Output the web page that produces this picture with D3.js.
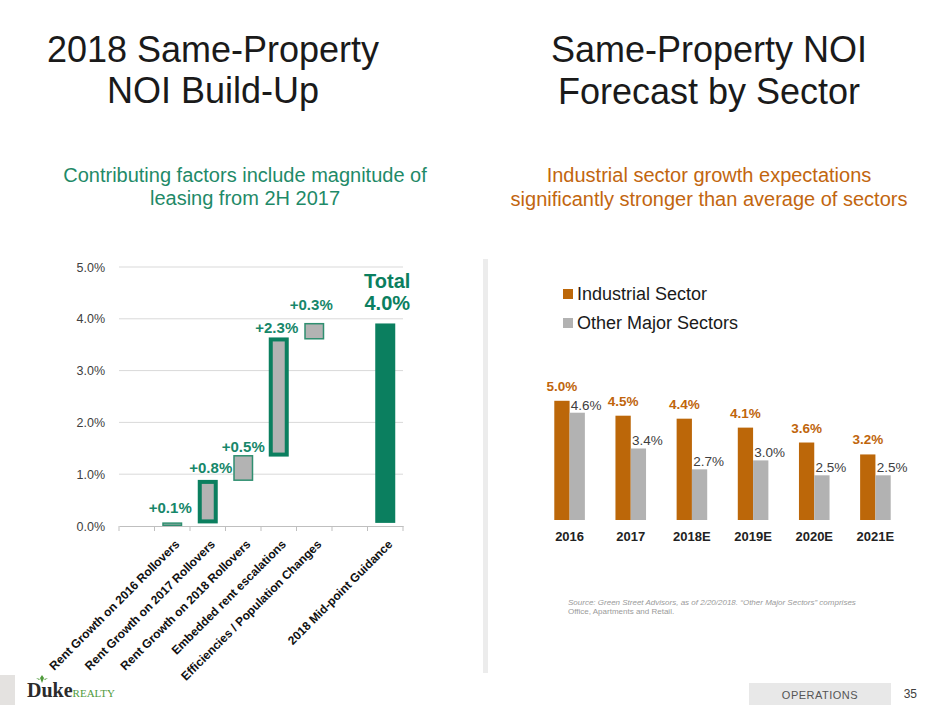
<!DOCTYPE html>
<html>
<head>
<meta charset="utf-8">
<script src="https://cdn.jsdelivr.net/npm/d3@7"></script>
<style>
  html, body { margin: 0; padding: 0; background: #fff; }
  svg { display: block; font-family: "Liberation Sans", Arial, Helvetica, sans-serif; }
</style>
</head>
<body>
<svg id="chart" width="940" height="705"></svg>
<script>
// ---------- Left chart: waterfall data ----------
const wfCategories = ["", "Rent Growth on 2016 Rollovers", "Rent Growth on 2017 Rollovers", "Rent Growth on 2018 Rollovers", "Embedded rent escalations", "Efficiencies / Population Changes", " ", "2018 Mid-point Guidance"];
const wfStart  = [null, 0.00, 0.05, 0.87, 1.34, 3.60, null, 0.06];
const wfEnd    = [null, 0.07, 0.89, 1.37, 3.64, 3.92, null, 3.91];
const wfLabels = ["", "+0.1%", "+0.8%", "+0.5%", "+2.3%", "+0.3%", "", "4.0%"];
const wfTicks  = [0, 1, 2, 3, 4, 5];

// ---------- Right chart: grouped bars ----------
const years = ["2016", "2017", "2018E", "2019E", "2020E", "2021E"];
const seriesNames = ["Industrial Sector", "Other Major Sectors"];
const industrial = [5.0, 4.5, 4.4, 4.1, 3.6, 3.2];
const otherMajor = [4.6, 3.4, 2.7, 3.0, 2.5, 2.5];

const GREEN = "#0b7f5f", GREEN_TXT = "#17876a", GRAY = "#b3b3b3";
const ORANGE = "#bc6709", OTHER_GRAY = "#b2b2b2";

const svg = d3.select("#chart");

// ---------- Titles ----------
function multiline(x, ys, lines, size, color, weight) {
  lines.forEach((t, i) => {
    svg.append("text").attr("x", x).attr("y", ys[i]).attr("text-anchor", "middle")
      .attr("font-size", size).attr("fill", color).attr("font-weight", weight || "normal").text(t);
  });
}
multiline(213, [62, 103], ["2018 Same-Property", "NOI Build-Up"], 36, "#1a1a1a");
multiline(709, [62, 104], ["Same-Property NOI", "Forecast by Sector"], 36, "#1a1a1a");
multiline(245, [182, 205], ["Contributing factors include magnitude of", "leasing from 2H 2017"], 20, "#1f8a68");
multiline(709, [182, 206], ["Industrial sector growth expectations", "significantly stronger than average of sectors"], 20, "#c2660f");

// divider
svg.append("rect").attr("x", 483).attr("y", 259).attr("width", 5).attr("height", 414).attr("fill", "#ececec");

// ---------- Left waterfall ----------
const lx = d3.scaleBand().domain(wfCategories).range([119, 403]).padding(0);
const ly = d3.scaleLinear().domain([0, 5]).range([526, 267]);
const left = svg.append("g");

left.append("g").selectAll("line").data(wfTicks).join("line")
  .attr("x1", 119).attr("x2", 403)
  .attr("y1", d => ly(d)).attr("y2", d => ly(d))
  .attr("stroke", d => d === 0 ? "none" : "#d9d9d9").attr("stroke-width", 1);

const yAxis = left.append("g").attr("transform", "translate(108,0)")
  .call(d3.axisLeft(ly).tickValues(wfTicks).tickSize(0).tickFormat(d => d.toFixed(1) + "%"));
yAxis.select(".domain").remove();
yAxis.selectAll("text").attr("font-size", 12.5).attr("fill", "#404040")
  .attr("font-family", "'Liberation Sans', Arial, sans-serif");

// x axis line + ticks at band boundaries
const xAxis = left.append("g").attr("transform", "translate(0,526)")
  .call(d3.axisBottom(lx).tickSize(0).tickFormat(""));
xAxis.select(".domain").attr("stroke", "#bfbfbf");
xAxis.selectAll(".tick").remove();
const bounds = wfCategories.map(c => lx(c)).concat([lx(wfCategories[wfCategories.length - 1]) + lx.bandwidth()]);
left.append("g").selectAll("line").data(bounds).join("line")
  .attr("x1", d => d).attr("x2", d => d).attr("y1", 526).attr("y2", 531)
  .attr("stroke", "#bfbfbf");

const thick = new Set(["Rent Growth on 2017 Rollovers", "Embedded rent escalations"]);
const totalCat = "2018 Mid-point Guidance";
const barW = 20;
const wfData = wfCategories.map((c, i) => ({ c, s: wfStart[i], e: wfEnd[i], lab: wfLabels[i] })).filter(d => d.s !== null);

left.append("g").selectAll("rect").data(wfData).join("rect")
  .each(function (d) {
    const cx = lx(d.c) + lx.bandwidth() / 2;
    const isTotal = d.c === totalCat;
    const sw = isTotal ? 0 : (thick.has(d.c) ? 4 : 1.5);
    const top = ly(d.e), bot = ly(d.s);
    d3.select(this)
      .attr("x", cx - barW / 2 + sw / 2).attr("width", barW - sw)
      .attr("y", top + sw / 2).attr("height", Math.max(0.5, bot - top - sw))
      .attr("fill", isTotal ? GREEN : GRAY)
      .attr("stroke", isTotal ? "none" : (thick.has(d.c) ? GREEN : "#2f8f70"))
      .attr("stroke-width", sw);
  });

// value labels
const labelOffsets = { "Rent Growth on 2016 Rollovers": [-2, 9], "Rent Growth on 2017 Rollovers": [3, 7], "Rent Growth on 2018 Rollovers": [0, 3], "Embedded rent escalations": [-2, 4], "Efficiencies / Population Changes": [-3, 13] };
left.append("g").selectAll("text").data(wfData.filter(d => d.c !== totalCat)).join("text")
  .attr("x", d => lx(d.c) + lx.bandwidth() / 2 + labelOffsets[d.c][0])
  .attr("y", d => ly(d.e) - labelOffsets[d.c][1])
  .attr("text-anchor", "middle").attr("font-size", 15).attr("font-weight", "bold")
  .attr("fill", GREEN_TXT).text(d => d.lab);

const tot = wfData.find(d => d.c === totalCat);
const tcx = lx(totalCat) + lx.bandwidth() / 2 + 2;
left.append("text").attr("x", tcx).attr("y", ly(tot.e) - 35).attr("text-anchor", "middle")
  .attr("font-size", 20).attr("font-weight", "bold").attr("fill", GREEN).text("Total");
left.append("text").attr("x", tcx).attr("y", ly(tot.e) - 13).attr("text-anchor", "middle")
  .attr("font-size", 20).attr("font-weight", "bold").attr("fill", GREEN).text(tot.lab);

// rotated category labels
left.append("g").selectAll("text").data(wfCategories.filter(c => c.trim() !== "")).join("text")
  .attr("transform", c => `translate(${lx(c) + lx.bandwidth() / 2 + 8},545) rotate(-45)`)
  .attr("text-anchor", "end").attr("font-size", 12).attr("font-weight", "bold")
  .attr("fill", "#111").text(c => c);

// ---------- Right grouped bars ----------
const rx0 = d3.scaleBand().domain(years).range([539, 906]).padding(0);
const rx1 = d3.scaleBand().domain(seriesNames).range([rx0.bandwidth() * 0.25, rx0.bandwidth() * 0.75]);
const ry = d3.scaleLinear().domain([1, 6]).range([520, 371]);
const colors = { "Industrial Sector": ORANGE, "Other Major Sectors": OTHER_GRAY };
const right = svg.append("g");
const grouped = years.map((y, i) => ({ y, vals: [{ s: seriesNames[0], v: industrial[i] }, { s: seriesNames[1], v: otherMajor[i] }] }));

const groups = right.selectAll("g.grp").data(grouped).join("g").attr("class", "grp")
  .attr("transform", d => `translate(${rx0(d.y)},0)`);
groups.selectAll("rect").data(d => d.vals).join("rect")
  .attr("x", d => rx1(d.s)).attr("width", rx1.bandwidth())
  .attr("y", d => ry(d.v)).attr("height", d => ry(1) - ry(d.v))
  .attr("fill", d => colors[d.s]);
groups.selectAll("text.val").data(d => d.vals).join("text").attr("class", "val")
  .attr("x", d => rx1(d.s) + rx1.bandwidth() / 2 + (d.s === seriesNames[0] ? 0 : 9))
  .attr("y", d => ry(d.v) - (d.s === seriesNames[0] ? 10 : 3))
  .attr("text-anchor", "middle").attr("font-size", 13.5)
  .attr("font-weight", d => d.s === seriesNames[0] ? "bold" : "normal")
  .attr("fill", d => d.s === seriesNames[0] ? "#c0650c" : "#404040")
  .text(d => d.v.toFixed(1) + "%");

const rAxis = right.append("g").attr("transform", "translate(0,520)")
  .call(d3.axisBottom(rx0).tickSize(0).tickPadding(12));
rAxis.select(".domain").remove();
rAxis.selectAll("text").attr("font-size", 13).attr("font-weight", "bold").attr("fill", "#222")
  .attr("font-family", "'Liberation Sans', Arial, sans-serif");

// legend
const leg = right.append("g").selectAll("g").data(seriesNames).join("g")
  .attr("transform", (d, i) => `translate(563,${289 + i * 29})`);
leg.append("rect").attr("width", 10).attr("height", 10).attr("fill", d => colors[d]);
leg.append("text").attr("x", 14).attr("y", 11).attr("font-size", 18).attr("fill", "#1a1a1a").text(d => d);

// source note
svg.append("text").attr("x", 568).attr("y", 605).attr("font-size", 8).attr("font-style", "italic")
  .attr("fill", "#9a9a9a").text("Source: Green Street Advisors, as of 2/20/2018. \u201cOther Major Sectors\u201d comprises");
svg.append("text").attr("x", 568).attr("y", 614).attr("font-size", 8)
  .attr("fill", "#9a9a9a").text("Office, Apartments and Retail.");

// ---------- Footer ----------
svg.append("rect").attr("x", 749).attr("y", 683).attr("width", 142).attr("height", 22).attr("fill", "#e8e8e8");
svg.append("text").attr("x", 820).attr("y", 699).attr("text-anchor", "middle").attr("font-size", 11)
  .attr("letter-spacing", 0.5).attr("fill", "#555").text("OPERATIONS");
svg.append("text").attr("x", 917).attr("y", 698).attr("text-anchor", "end").attr("font-size", 12)
  .attr("fill", "#404040").text("35");

// logo
svg.append("rect").attr("x", 0).attr("y", 675).attr("width", 15).attr("height", 30).attr("fill", "#e4e2e0");
const logo = svg.append("text").attr("x", 27).attr("y", 697).attr("font-family", "'Liberation Serif', 'DejaVu Serif', serif");
logo.append("tspan").attr("font-size", 20).attr("font-weight", "bold").attr("fill", "#2b2b2b").text("Duke");
logo.append("tspan").attr("font-size", 11).attr("fill", "#4f9a3b").text("REALTY");
svg.append("path").attr("d", "M42,683 L40,678 L42,675 L44,678 Z M39,680 L36,678 L40,679 Z M45,680 L48,678 L44,679 Z")
  .attr("fill", "#4f9a3b");
</script>
</body>
</html>
